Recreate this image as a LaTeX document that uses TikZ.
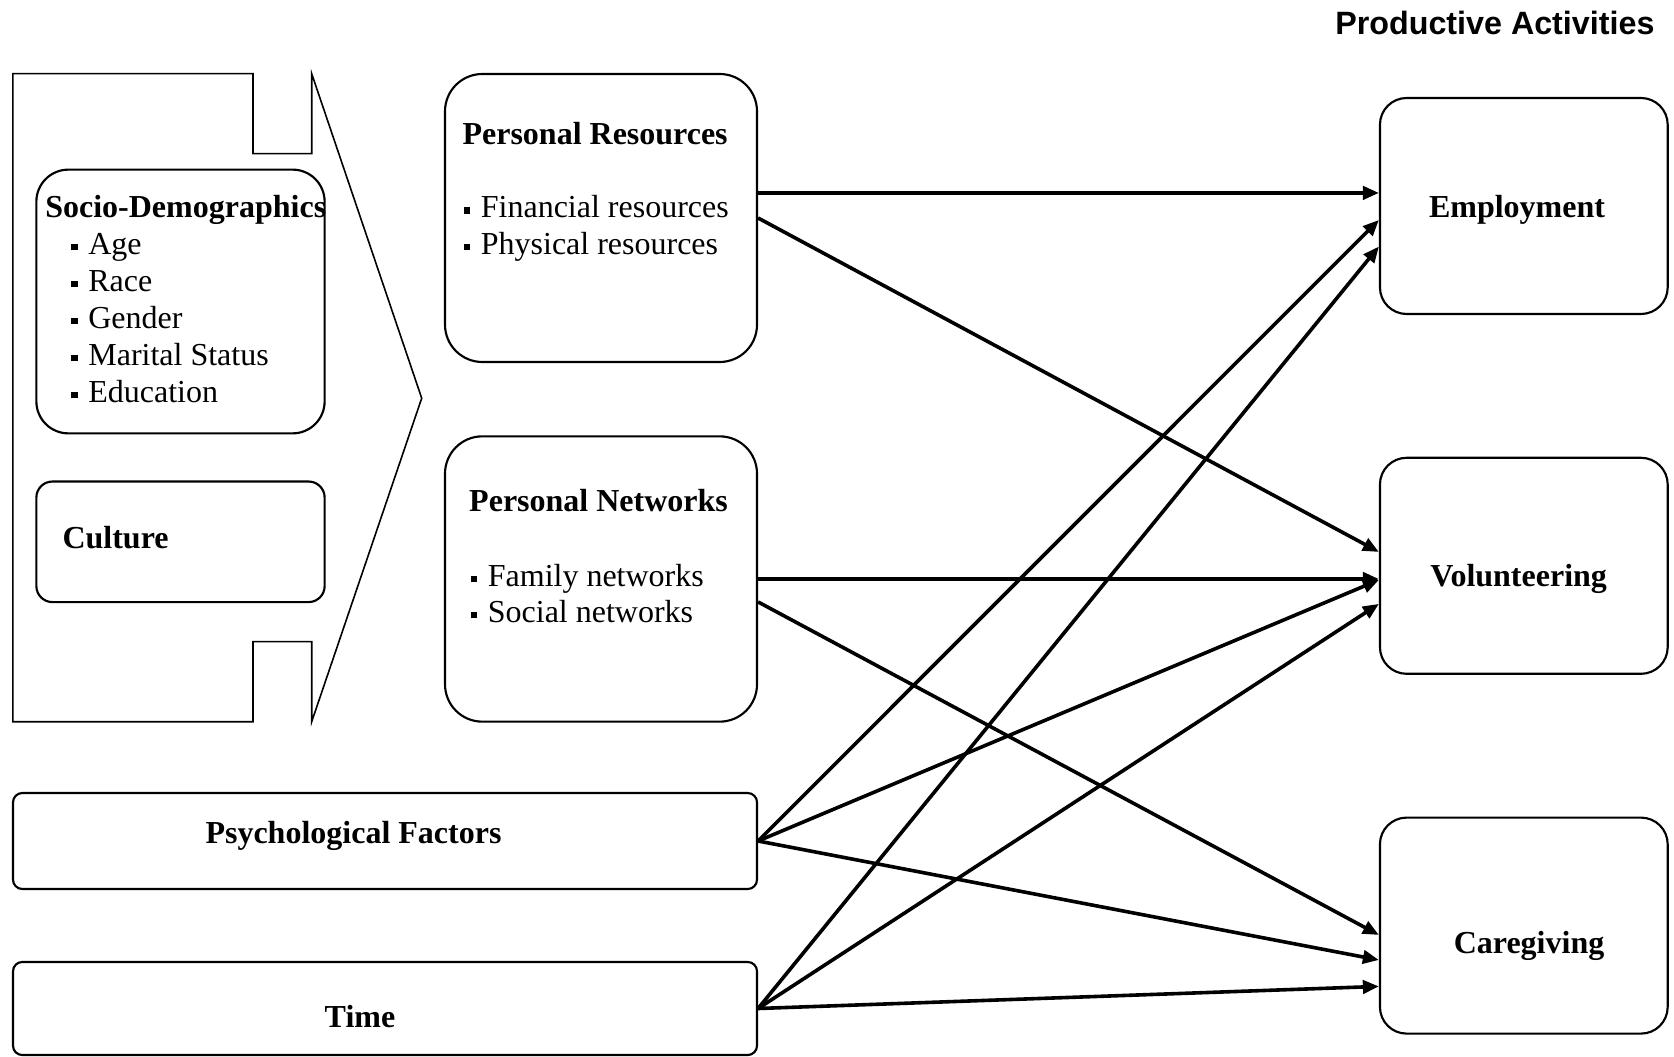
\documentclass[tikz,border=0pt]{standalone}
\usepackage{fontspec}
\setmainfont{Liberation Serif}
\newfontfamily\headfont{Liberation Sans}
\usetikzlibrary{arrows.meta}

% small square bullet for the item lists
\newcommand{\sqbul}{\rule[0.13em]{2.5pt}{2.5pt}\hspace{4pt}}
\newcommand{\txtsize}{\fontsize{12pt}{14pt}\selectfont}

\tikzset{
  box/.style={draw, line width=0.8pt, inner sep=0pt},
  lbl/.style={anchor=base west, inner sep=0pt, font=\txtsize\bfseries},
  item/.style={anchor=base west, inner sep=0pt, font=\txtsize},
  link/.style={line width=1.35pt, -{Triangle[length=6pt,width=5pt]}}
}

\begin{document}
\begin{tikzpicture}[x=0.375pt, y=-0.375pt]
  \useasboundingbox (0,0) rectangle (1674,1057);

  % big chevron holding the background factors
  \draw[line width=0.6pt] (12.8,73.7) -- (253,73.7) -- (253,153.7) -- (311.7,153.7)
    -- (311.7,73.7) -- (421.7,398.2) -- (311.7,721.7) -- (311.7,641.6)
    -- (253,641.6) -- (253,721.7) -- (12.8,721.7) -- cycle;

  % boxes
  \node[box, rounded corners=12pt, minimum width=108.1pt, minimum height=98.9pt] (socio) at (180.5,301.5) {};
  \node[box, rounded corners=6pt, minimum width=108.1pt, minimum height=45.2pt] (culture) at (180.5,541.8) {};
  \node[box, rounded corners=14pt, minimum width=117pt, minimum height=108pt] (pr) at (601,218) {};
  \node[box, rounded corners=14pt, minimum width=117pt, minimum height=107pt] (pn) at (601,579) {};
  \node[box, rounded corners=3.5pt, minimum width=279pt, minimum height=36pt] (psy) at (385,841) {};
  \node[box, rounded corners=3.5pt, minimum width=279pt, minimum height=34.9pt] (time) at (385,1008.5) {};
  \node[box, rounded corners=10pt, minimum width=107.9pt, minimum height=81pt] (emp) at (1523.8,206) {};
  \node[box, rounded corners=10pt, minimum width=107.9pt, minimum height=81pt] (vol) at (1523.8,565.8) {};
  \node[box, rounded corners=10pt, minimum width=107.9pt, minimum height=81pt] (care) at (1523.8,925.6) {};

  % texts
  \node[anchor=base east, inner sep=0pt, font=\headfont\fontsize{12.1pt}{14pt}\selectfont\bfseries] (title) at (1655,35) {Productive Activities};

  \node[lbl] (socioT) at (44.8,218) {Socio-Demographics};
  \foreach \k/\txt in {0/Age, 1/Race, 2/Gender, 3/Marital Status, 4/Education} {
      \node[item] (socio\k) at (70.5,254.5+37*\k) {\sqbul\txt};
  }
  \node[lbl] (cultureT) at (62,549) {Culture};

  \node[lbl] (prT) at (462,144.5) {Personal Resources};
  \node[item] (pr1) at (463,218) {\sqbul Financial resources};
  \node[item] (pr2) at (463,254.5) {\sqbul Physical resources};

  \node[lbl] (pnT) at (468.7,511.5) {Personal Networks};
  \node[item] (pn1) at (470,586.5) {\sqbul Family networks};
  \node[item] (pn2) at (470,622.5) {\sqbul Social networks};

  \node[lbl] (psyT) at (205,843.5) {Psychological Factors};
  \node[lbl, anchor=base] (timeT) at (360,1027) {Time};

  \node[lbl, anchor=base] (empT) at (1517,218) {Employment};
  \node[lbl, anchor=base] (volT) at (1518.6,586.5) {Volunteering};
  \node[lbl, anchor=base] (careT) at (1529,953.5) {Caregiving};

  % arrows into the productive activities
  \draw[link] ([yshift=9.4pt]pr.east) coordinate (prtop) -- (prtop -| emp.west);
  \draw[link] (pr.east) -- ([yshift=5.2pt]vol.west);
  \draw[link] (pn.east) -- (pn.east -| vol.west);
  \draw[link] ([yshift=-8.6pt]pn.east) -- ([yshift=-3.5pt]care.west);
  \draw[link] (psy.east) -- ([yshift=-5.25pt]emp.west);
  \draw[link] (psy.east) -- ([yshift=-5.3pt]vol.west);
  \draw[link] (psy.east) -- ([yshift=-12.9pt]care.west);
  \draw[link] (time.east) -- ([yshift=-15.2pt]emp.west);
  \draw[link] (time.east) -- ([yshift=-14.3pt]vol.west);
  \draw[link] (time.east) -- ([yshift=-22.8pt]care.west);

\end{tikzpicture}
\end{document}
